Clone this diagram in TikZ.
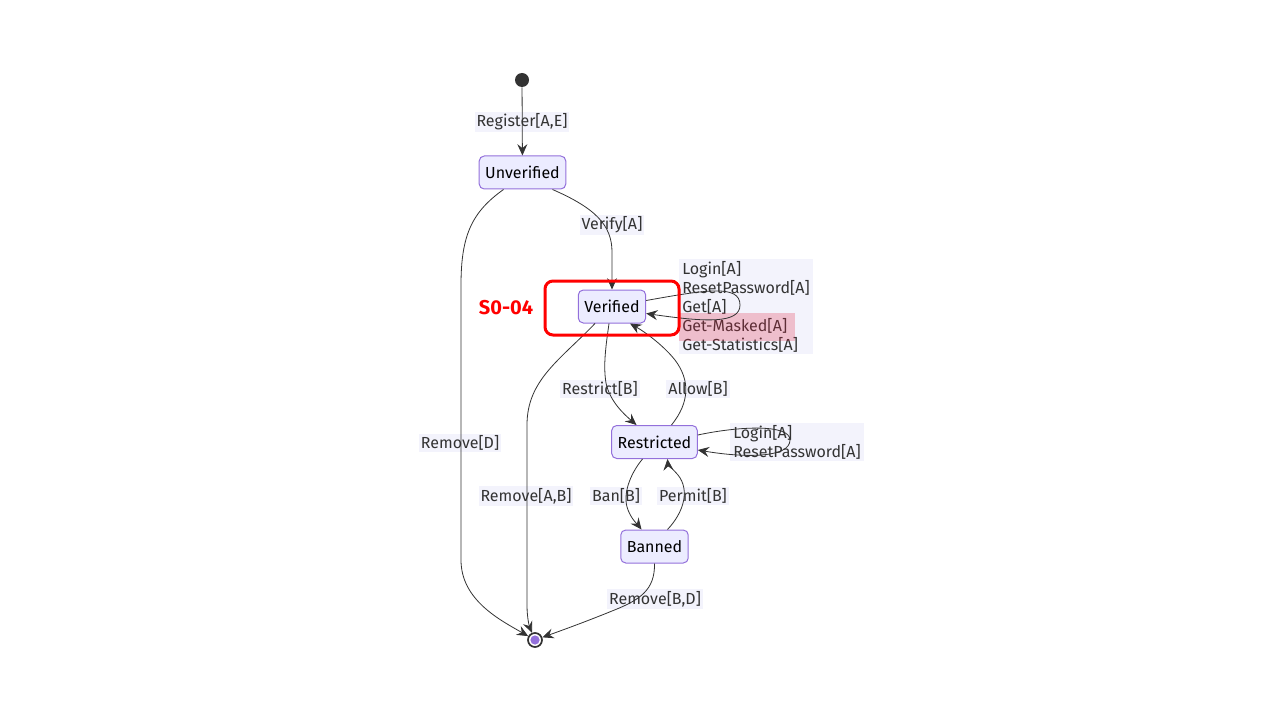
\documentclass[tikz,border=0pt]{standalone}
\usepackage{fontspec}
\setmainfont{Fira Sans}
\usetikzlibrary{arrows.meta}
\newdimen\px \px=0.75pt
\definecolor{nodefill}{HTML}{ECECFF}
\definecolor{nodeline}{HTML}{9370DB}
\definecolor{lblbg}{HTML}{F3F3FC}
\definecolor{edgec}{HTML}{333333}
\definecolor{hlred}{HTML}{E02040}
\tikzset{
  stbox/.style={draw=nodeline, fill=nodefill, rounded corners=3.75pt, line width=0.75pt,
    minimum height=33\px, inner xsep=6\px, font=\fontsize{12}{14}\selectfont, text=black},
  lbl/.style={fill=lblbg, inner sep=1.5pt, font=\fontsize{12}{14}\selectfont, text=edgec},
  mlbl/.style={lbl, align=left, font=\fontsize{12}{14.25}\selectfont},
  arr/.style={draw=edgec, line width=0.6pt, -{Stealth[length=8.5pt,width=7.5pt,inset=3pt]}},
}
\begin{document}
\begin{tikzpicture}[x=0.75pt,y=-0.75pt]
\path[use as bounding box] (0,0) rectangle (1280,720);
% labels first (edges drawn over them)
\node[lbl] (lreg) at (522,122) {Register[A,E]};
\node[lbl] (lver) at (612,225) {Verify[A]};
\node[lbl] (lremd) at (460,443) {Remove[D]};
\node[mlbl, anchor=north west, inner xsep=3\px, inner ysep=2\px] (lvloop) at (679,259) {Login[A]\\ResetPassword[A]\\Get[A]\\Get-Masked[A]\\Get-Statistics[A]};
\node[lbl] (lrestrict) at (600,389) {Restrict[B]};
\node[lbl] (lallow) at (698,389) {Allow[B]};
\node[lbl] (lremab) at (526,496) {Remove[A,B]};
\node[mlbl, anchor=north west, inner xsep=3\px, inner ysep=2\px] (lrloop) at (730,423) {Login[A]\\ResetPassword[A]};
\node[lbl] (lban) at (616,496) {Ban[B]};
\node[lbl] (lpermit) at (693,496) {Permit[B]};
\node[lbl] (lrembd) at (655,599) {Remove[B,D]};
% highlight of Get-Masked
\fill[hlred, opacity=0.25] (679,313) rectangle (795,341);
% states
\node[circle, fill=edgec, minimum size=14\px, inner sep=0pt] (start) at (522,80) {};
\node[stbox] (unv) at (522.5,172.5) {Unverified};
\node[stbox] (ver) at (612,306.5) {Verified};
\node[stbox] (res) at (654.5,442) {Restricted};
\node[stbox] (ban) at (654.5,546.5) {Banned};
\node[circle, draw=edgec, fill=white, line width=1.3pt, minimum size=14\px, inner sep=0pt] (endn) at (535,640) {};
\fill[nodeline] (endn.center) circle (4.6);
% edges
\draw[arr] (start) -- (unv);
\draw[arr] ([xshift=-19\px]unv.south) .. controls (472,212) and (461,235) .. (461,285) -- (461,560)
  .. controls (461,600) and (500,620) .. (endn);
\draw[arr] ([xshift=30\px]unv.south) .. controls (595,208) and (612,225) .. (612,252) -- (ver.north);
\draw[arr] ([yshift=6\px]ver.east) .. controls (705,290) and (740,284) .. (740,305)
  .. controls (740,324) and (705,322) .. ([yshift=-7\px]ver.east);
\draw[arr] ([xshift=-17\px]ver.south) .. controls (560,360) and (527,380) .. (527,425) -- (527,605)
  .. controls (527,620) and (530,628) .. (endn);
\draw[arr] ([xshift=-3\px]ver.south) .. controls (606,345) and (603,365) .. (606,383)
  .. controls (610,402) and (625,415) .. ([xshift=-18\px]res.north);
\draw[arr] ([xshift=17\px]res.north) .. controls (690,402) and (690,380) .. (675,360)
  .. controls (663,345) and (645,332) .. ([xshift=18\px]ver.south);
\draw[arr] ([yshift=7\px]res.east) .. controls (740,426) and (790,424) .. (790,440)
  .. controls (790,458) and (745,458) .. ([yshift=-8\px]res.east);
\draw[arr] ([xshift=-12\px]res.south) .. controls (630,474) and (622,495) .. (628,510)
  .. controls (632,520) and (638,525) .. ([xshift=-13\px]ban.north);
\draw[arr] ([xshift=13\px]ban.north) .. controls (684,512) and (690,490) .. (678,475)
  .. controls (672,468) and (668,465) .. ([xshift=13\px]res.south);
\draw[arr] (ban.south) .. controls (655,590) and (640,600) .. (612,611)
  .. controls (585,622) and (560,631) .. (endn);
% red frame
\node[draw=red, line width=3\px, rounded corners=6pt, minimum width=134\px, minimum height=54\px] (frame) at (612,308) {};
\node[text=red, font=\bfseries\fontsize{15}{18}\selectfont] (tag) at (506,308) {S0-04};
\end{tikzpicture}
\end{document}
